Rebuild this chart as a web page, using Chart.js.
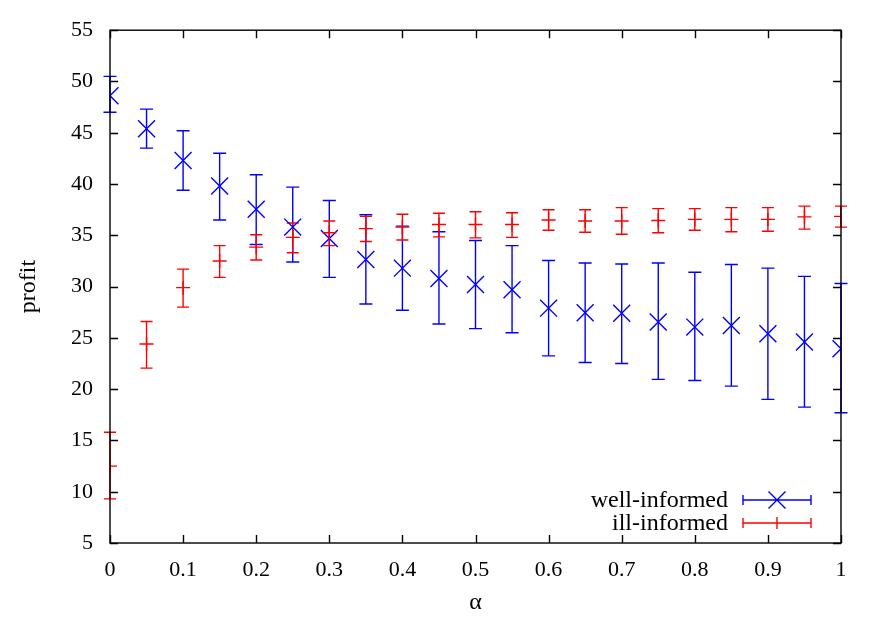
<!DOCTYPE html>
<html>
<head>
<meta charset="utf-8">
<script src="https://cdn.jsdelivr.net/npm/chart.js@4/dist/chart.umd.min.js"></script>
<style>
  html, body { margin: 0; padding: 0; background: #fff; }
  #wrap { width: 882px; height: 617px; }
</style>
</head>
<body>
<div id="wrap"><canvas id="ShowChart" width="882" height="617"></canvas></div>
<script>
var Alpha = [0, 0.05, 0.1, 0.15, 0.2, 0.25, 0.3, 0.35, 0.4, 0.45, 0.5, 0.55, 0.6, 0.65, 0.7, 0.75, 0.8, 0.85, 0.9, 0.95, 1]

var Well_Mean = [48.6, 45.4, 42.3, 39.8, 37.55, 35.8, 34.7, 32.65, 31.8, 30.8, 30.2, 29.7, 27.9, 27.45, 27.4, 26.55, 26.05, 26.2, 25.4, 24.6, 23.95]
var Well_High = [50.5, 47.3, 45.2, 43.0, 40.9, 39.7, 38.4, 37.0, 35.9, 35.35, 34.5, 34.0, 32.55, 32.3, 32.2, 32.3, 31.4, 32.15, 31.8, 31.0, 30.3]
var Well_Low = [47.0, 43.5, 39.4, 36.5, 34.1, 32.4, 30.9, 28.3, 27.7, 26.35, 25.9, 25.5, 23.25, 22.6, 22.5, 20.95, 20.85, 20.3, 19.0, 18.25, 17.7]

var Ill_Mean = [12.5, 24.4, 29.9, 32.5, 33.85, 34.8, 35.25, 35.65, 35.8, 36.05, 36.05, 36.05, 36.5, 36.4, 36.4, 36.45, 36.55, 36.55, 36.55, 36.8, 36.85]
var Ill_High = [15.8, 26.6, 31.7, 34.0, 35.05, 36.2, 36.4, 36.85, 37.05, 37.15, 37.3, 37.2, 37.5, 37.5, 37.7, 37.6, 37.6, 37.7, 37.7, 37.85, 37.85]
var Ill_Low = [9.3, 22.05, 28.0, 30.9, 32.6, 33.3, 34.0, 34.4, 34.55, 34.85, 34.75, 34.8, 35.5, 35.3, 35.1, 35.25, 35.5, 35.35, 35.4, 35.6, 35.8]

var X_Ticks = [0, 0.1, 0.2, 0.3, 0.4, 0.5, 0.6, 0.7, 0.8, 0.9, 1]
var Y_Ticks = [5, 10, 15, 20, 25, 30, 35, 40, 45, 50, 55]
var Series_Labels = ["well-informed", "ill-informed"]
var Blue = "rgb(0, 0, 255)", Red = "rgb(255, 0, 0)"
var Font_Family = "'Liberation Serif', 'DejaVu Serif', serif"

function Make_Points(xs, ys){
  var tmp = []
  for (var i = 0; i < xs.length; i++){ tmp.push({x: xs[i], y: ys[i]}) }
  return tmp
}

// error bars, inward ticks, legend
var Error_Plugin = {
  id: "errorbars",
  beforeDatasetsDraw: function(chart){
    var c = chart.ctx, xs = chart.scales.x, ys = chart.scales.y
    var sets = [[Well_High, Well_Low, Blue, 6.5], [Ill_High, Ill_Low, Red, 6]]
    c.save()
    c.lineWidth = 1.4
    for (var s = 0; s < sets.length; s++){
      c.strokeStyle = sets[s][2]
      var w = sets[s][3]
      for (var i = 0; i < Alpha.length; i++){
        var px = xs.getPixelForValue(Alpha[i])
        var top = ys.getPixelForValue(sets[s][0][i])
        var bot = ys.getPixelForValue(sets[s][1][i])
        c.beginPath()
        c.moveTo(px, top); c.lineTo(px, bot)
        c.moveTo(px - w, top); c.lineTo(px + w, top)
        c.moveTo(px - w, bot); c.lineTo(px + w, bot)
        c.stroke()
      }
    }
    c.restore()
  },
  afterDraw: function(chart){
    var c = chart.ctx, xs = chart.scales.x, ys = chart.scales.y, a = chart.chartArea
    c.save()
    c.strokeStyle = "#000"
    c.lineWidth = 1.4
    c.beginPath()
    for (var i = 0; i < X_Ticks.length; i++){
      var px = Math.round(xs.getPixelForValue(X_Ticks[i])) + 0.5
      c.moveTo(px, a.bottom); c.lineTo(px, a.bottom - 8)
      c.moveTo(px, a.top); c.lineTo(px, a.top + 8)
    }
    for (var i = 0; i < Y_Ticks.length; i++){
      var py = Math.round(ys.getPixelForValue(Y_Ticks[i])) + 0.5
      c.moveTo(a.left, py); c.lineTo(a.left + 8, py)
      c.moveTo(a.right, py); c.lineTo(a.right - 8, py)
    }
    c.stroke()
    c.strokeRect(a.left, a.top, a.right - a.left, a.bottom - a.top)

    // legend
    var rows = [[Series_Labels[0], Blue, "x", 500], [Series_Labels[1], Red, "+", 523]]
    c.font = "24px " + Font_Family
    c.textAlign = "right"
    c.textBaseline = "middle"
    for (var r = 0; r < rows.length; r++){
      var y = rows[r][3]
      c.fillStyle = "#000"
      c.fillText(rows[r][0], 728, y + 1)
      c.strokeStyle = rows[r][1]
      c.lineWidth = 1.4
      c.beginPath()
      c.moveTo(743, y); c.lineTo(811, y)
      c.moveTo(743, y - 5); c.lineTo(743, y + 5)
      c.moveTo(811, y - 5); c.lineTo(811, y + 5)
      if (rows[r][2] == "x"){
        c.moveTo(777 - 8.5, y - 8.5); c.lineTo(777 + 8.5, y + 8.5)
        c.moveTo(777 - 8.5, y + 8.5); c.lineTo(777 + 8.5, y - 8.5)
      }else{
        c.moveTo(777, y - 6); c.lineTo(777, y + 6)
      }
      c.stroke()
    }
    c.restore()
  }
}

var ctx = document.getElementById("ShowChart").getContext("2d")
var Show_Chart = {
  type: "scatter",
  data: {
    datasets: [
      {
        label: Series_Labels[1],
        data: Make_Points(Alpha, Ill_Mean),
        pointStyle: "cross",
        pointRadius: 7,
        borderColor: Red,
        backgroundColor: Red,
        borderWidth: 1.4,
        order: 1
      },
      {
        label: Series_Labels[0],
        data: Make_Points(Alpha, Well_Mean),
        pointStyle: "crossRot",
        pointRadius: 12,
        borderColor: Blue,
        backgroundColor: Blue,
        borderWidth: 1.4,
        order: 2
      }
    ]
  },
  options: {
    responsive: false,
    animation: false,
    layout: { padding: { top: 29, right: 41, left: 0, bottom: 0 } },
    plugins: {
      legend: { display: false },
      tooltip: { enabled: false }
    },
    scales: {
      x: {
        type: "linear",
        min: 0,
        max: 1,
        afterBuildTicks: function(scale){
          scale.ticks = X_Ticks.map(function(v){ return {value: v} })
        },
        afterFit: function(scale){ scale.height = 74 },
        grid: { display: false, drawTicks: false },
        border: { display: false },
        ticks: {
          color: "#000",
          padding: 14,
          maxRotation: 0,
          font: { family: Font_Family, size: 22 },
          callback: function(v){ return String(v) }
        },
        title: {
          display: true,
          text: "α",
          color: "#000",
          padding: { top: 8, bottom: 0 },
          font: { family: Font_Family, size: 24 }
        }
      },
      y: {
        type: "linear",
        min: 5,
        max: 55,
        afterBuildTicks: function(scale){
          scale.ticks = Y_Ticks.map(function(v){ return {value: v} })
        },
        afterFit: function(scale){ scale.width = 110 },
        grid: { display: false, drawTicks: false },
        border: { display: false },
        ticks: {
          color: "#000",
          padding: 17,
          font: { family: Font_Family, size: 22 }
        },
        title: {
          display: true,
          text: "profit",
          color: "#000",
          padding: { top: 14, bottom: 0 },
          font: { family: Font_Family, size: 24 }
        }
      }
    }
  },
  plugins: [Error_Plugin]
}
var ChartObject = new Chart(ctx, Show_Chart)
</script>
</body>
</html>
